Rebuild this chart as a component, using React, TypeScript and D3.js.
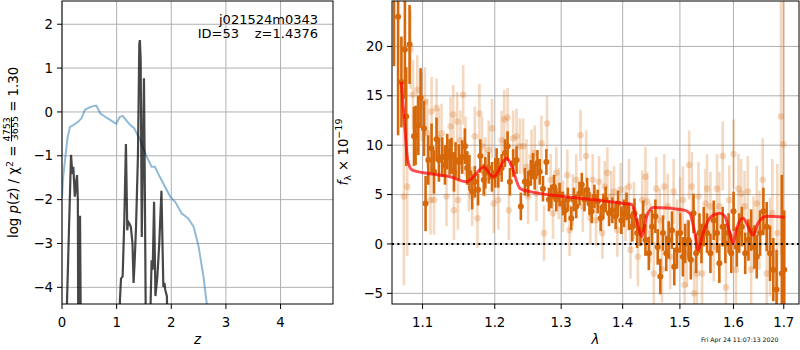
import React, { useEffect } from 'react';
import * as d3 from 'd3';

// ---- left panel: redshift fit ----
const zTicks = [0, 1, 2, 3, 4];
const pTicks = [-4, -3, -2, -1, 0, 1, 2];

// chi2 curve (blue), [z, value]
const chi2Curve = [
  [0.0, -1.95], [0.02, -1.5], [0.055, -1.1], [0.1, -0.6], [0.146, -0.34], [0.21, -0.3],
  [0.3, -0.22], [0.36, -0.14], [0.42, 0.05], [0.51, 0.11], [0.6, 0.14], [0.63, 0.14],
  [0.7, -0.03], [0.79, -0.11], [0.88, -0.18], [0.99, -0.27], [1.06, -0.11], [1.11, -0.09],
  [1.17, -0.18], [1.25, -0.3], [1.32, -0.37], [1.43, -0.64], [1.55, -1.02], [1.64, -1.25],
  [1.7, -1.25], [1.79, -1.48], [1.98, -1.93], [2.07, -2.05], [2.19, -2.31], [2.31, -2.43],
  [2.41, -2.62], [2.5, -3.07], [2.59, -3.76], [2.65, -4.38], [2.72, -5.2]
];

// log p(z) (dark), [z, value]
const pzCurve = [
  [0.055, -6], [0.165, -0.98], [0.19, -1.41], [0.207, -1.25], [0.235, -1.93], [0.26, -1.6],
  [0.275, -1.44], [0.29, -2.0], [0.3, -6], [0.31, -2.39], [0.33, -2.39], [0.35, -6],
  [0.36, -8], [1.04, -8], [1.06, -4.3], [1.08, -3.8], [1.11, -3.75], [1.14, -2.5],
  [1.17, -0.73], [1.195, -2.7], [1.21, -2.5], [1.235, -2.55], [1.26, -2.62], [1.29, -3.0],
  [1.31, -3.9], [1.33, -3.4], [1.355, -2.62], [1.39, -1.0], [1.415, 1.55], [1.425, 1.64],
  [1.44, 1.2], [1.46, -2.85], [1.48, -1.0], [1.5, 0.77], [1.515, -1.5], [1.54, -6],
  [1.56, -7], [1.61, -5], [1.64, -3.38], [1.66, -3.6], [1.685, -2.05], [1.71, -4.2],
  [1.745, -3.76], [1.78, -3.0], [1.82, -1.8], [1.855, -3.99], [1.875, -3.9], [1.89, -4.06],
  [1.92, -4.2], [1.94, -6], [2.0, -8]
];

// ---- right panel: spectrum ----
const lamTicks = [1.1, 1.2, 1.3, 1.4, 1.5, 1.6, 1.7];
const fTicks = [-5, 0, 5, 10, 15, 20];

// [lambda, flux, err]
const darkPoints = [
  [1.0628, 28, 10], [1.068, 23, 12], [1.0723, 16.4, 4.6], [1.0768, 19.7, 5], [1.0785, 12.9, 5],
  [1.0829, 20.2, 4], [1.0887, 10.9, 3], [1.0908, 11.0, 3], [1.0944, 12.0, 3], [1.0974, 14.8, 3],
  [1.1019, 11.7, 2.8], [1.104, 4.1, 2.8], [1.1076, 8.5, 2.5], [1.112, 9.7, 2.5], [1.1152, 7.3, 2.2],
  [1.1187, 10.6, 2.2], [1.1219, 8.5, 2.2], [1.1264, 8.8, 2], [1.1301, 8.0, 2], [1.1332, 9.35, 1.8],
  [1.1364, 8.8, 1.8], [1.1391, 8.95, 1.8], [1.1424, 7.3, 2], [1.1446, 8.5, 1.8], [1.1492, 8.3, 1.8],
  [1.1538, 8.8, 1.7], [1.1575, 9.9, 1.8], [1.1607, 7.7, 1.7], [1.1639, 7.2, 1.8], [1.1677, 5.3, 1.8],
  [1.1715, 6.3, 1.6], [1.1761, 5.5, 1.6], [1.1793, 8.9, 1.7], [1.1842, 6.5, 1.6], [1.1864, 7.2, 1.6],
  [1.1913, 7.7, 1.6], [1.196, 6.8, 1.5], [1.2007, 7.2, 1.5], [1.2027, 8.2, 1.5], [1.2051, 7.2, 1.5],
  [1.21, 7.7, 1.4], [1.2148, 9.2, 1.4], [1.2187, 9.9, 1.5], [1.2221, 6.3, 1.4], [1.2269, 8.2, 1.4],
  [1.2319, 8.5, 1.4], [1.2383, 3.8, 1.4], [1.2443, 6.3, 1.4], [1.2492, 6.1, 1.3], [1.2532, 7.2, 1.3],
  [1.2567, 7.9, 1.3], [1.2592, 6.8, 1.3], [1.2633, 8.2, 1.3], [1.2668, 7.3, 1.3], [1.2718, 5.6, 1.3],
  [1.277, 8.3, 1.3], [1.281, 4.5, 1.2], [1.2847, 4.8, 1.2], [1.2887, 5.8, 1.2], [1.2924, 4.5, 1.2],
  [1.2975, 5.0, 1.2], [1.3027, 4.1, 1.2], [1.3064, 3.4, 1.2], [1.3105, 4.5, 1.2], [1.3159, 2.6, 1.2],
  [1.32, 4.5, 1.2], [1.3238, 3.8, 1.2], [1.329, 5.1, 1.2], [1.3327, 6.0, 1.2], [1.337, 4.5, 1.2],
  [1.3413, 5.5, 1.2], [1.345, 4.1, 1.2], [1.3487, 3.3, 1.2], [1.3531, 4.8, 1.2], [1.3585, 4.3, 1.2],
  [1.3633, 2.6, 1.3], [1.3678, 3.8, 1.3], [1.3716, 4.5, 1.3], [1.3772, 3.1, 1.3], [1.3827, 3.4, 1.3],
  [1.3882, 2.8, 1.3], [1.3922, 4.1, 1.3], [1.3977, 2.4, 1.4], [1.4022, 3.1, 1.4], [1.4066, 3.8, 1.4],
  [1.4106, 2.8, 1.4], [1.4162, 1.75, 1.5], [1.4201, 3.1, 1.5], [1.4247, 1.1, 1.5], [1.4303, 1.4, 1.6],
  [1.435, 2.8, 1.6], [1.4389, 0.4, 1.6], [1.4448, -0.95, 1.7], [1.4505, 1.75, 1.7], [1.4563, 2.8, 1.7],
  [1.4604, -0.3, 1.8], [1.465, -3.3, 1.8], [1.4697, 1.1, 1.8], [1.4755, -0.95, 1.8], [1.4798, 0.4, 1.9],
  [1.4857, 1.4, 1.9], [1.4898, -2.3, 1.9], [1.4946, -0.6, 1.9], [1.5005, 1.1, 2], [1.5054, -1.3, 2],
  [1.5095, 0.05, 2], [1.5157, 0.4, 2], [1.5199, -1.6, 2], [1.5248, 3.1, 2], [1.5296, -0.95, 2],
  [1.5358, 1.1, 2], [1.5395, 0.05, 2], [1.5437, 1.75, 2], [1.5499, 1.1, 2], [1.5562, -0.95, 2],
  [1.5624, 2.4, 2], [1.5686, 1.1, 2], [1.573, -1.95, 2], [1.5793, 1.75, 2], [1.5844, 0.05, 2],
  [1.5906, 1.1, 2], [1.5958, -0.95, 2], [1.6002, 3.3, 2], [1.6065, -0.3, 2], [1.6112, 1.1, 2],
  [1.6162, 1.75, 2], [1.6228, -0.95, 2.1], [1.6292, 0.4, 2.1], [1.6345, 1.4, 2.1], [1.641, -0.3, 2.2],
  [1.6455, -1.3, 2.2], [1.6522, 1.1, 2.3], [1.6588, 3.3, 2.4], [1.6654, 1.75, 2.5], [1.6721, -0.95, 2.8],
  [1.6787, -2.6, 3.2], [1.6853, -4.6, 4], [1.696, -3, 10], [1.701, -2.6, 6]
];

const lightPoints = [
  [1.0755, 4.8, 9], [1.0798, 5.8, 7], [1.0842, 19.7, 4], [1.0873, 15.1, 3.5], [1.093, 15.6, 3.5],
  [1.0987, 13.9, 3.5], [1.1032, 14.4, 3.5], [1.1063, 11.2, 3.5], [1.1106, 4.45, 3.5], [1.112, 13.4, 3.5],
  [1.1152, 4.45, 3.5], [1.1187, 13.75, 3], [1.1219, 10.7, 3], [1.1254, 11.2, 3], [1.1322, 4.8, 3],
  [1.1377, 11.9, 3], [1.1414, 13.1, 3], [1.1424, 3.4, 3], [1.1469, 12.4, 3], [1.1479, 4.45, 3],
  [1.1514, 10.5, 3], [1.1552, 15.1, 3], [1.1584, 9.9, 3], [1.1631, 6.3, 3], [1.1677, 4.8, 3],
  [1.1715, 10.9, 3], [1.1752, 2.6, 3], [1.178, 13.2, 3], [1.1818, 9.9, 3], [1.1864, 7.8, 3],
  [1.1913, 9.5, 3], [1.196, 11.7, 3], [1.1985, 4.1, 3], [1.2051, 4.45, 3], [1.21, 10.5, 3],
  [1.2138, 12.6, 3], [1.2187, 12.8, 3], [1.2206, 3.4, 3], [1.2269, 10.7, 2.8], [1.2319, 10.9, 2.8],
  [1.2368, 9.9, 2.8], [1.2417, 9.9, 2.8], [1.2468, 7.8, 2.8], [1.2492, 4.8, 2.8], [1.2543, 8.8, 2.8],
  [1.2592, 9.2, 2.8], [1.2618, 5.1, 2.8], [1.2694, 10.2, 2.8], [1.2734, 1.1, 2.8], [1.278, 12.2, 2.8],
  [1.2836, 6.5, 2.6], [1.2872, 3.1, 2.6], [1.2924, 7.2, 2.6], [1.296, 5.1, 2.6], [1.3027, 3.8, 2.6],
  [1.3096, 6.95, 2.6], [1.3132, 1.4, 2.6], [1.3184, 4.45, 2.6], [1.3238, 6.5, 2.6], [1.3306, 11.0, 2.6],
  [1.3343, 3.8, 2.6], [1.3397, 8.9, 2.6], [1.3466, 2.6, 2.6], [1.3503, 6.5, 2.6], [1.3558, 2.4, 2.6],
  [1.3607, 6.3, 2.6], [1.3662, 1.1, 2.6], [1.37, 5.8, 2.6], [1.3744, 7.2, 2.6], [1.381, 4.8, 2.6],
  [1.3855, 5.3, 2.6], [1.391, 1.4, 2.7], [1.3965, 5.5, 2.7], [1.4049, 3.1, 2.8], [1.4106, 5.8, 2.8],
  [1.4133, -0.6, 2.9], [1.4191, 3.4, 2.9], [1.4259, -1.3, 3], [1.4333, 4.45, 3], [1.4389, 6.8, 3],
  [1.4418, 4.3, 3], [1.4476, 1.1, 3], [1.4535, -3.0, 3.2], [1.458, 5.6, 3.2], [1.4639, 2.4, 3.2],
  [1.468, -2.6, 3.3], [1.4721, 5.8, 3.3], [1.4781, 3.8, 3.3], [1.4826, -1.3, 3.3], [1.4887, 5.3, 3.3],
  [1.4946, 1.1, 3.4], [1.5005, 3.4, 3.4], [1.5054, 4.45, 3.4], [1.5085, -4.15, 3.4], [1.5126, -0.95, 3.4],
  [1.5168, 8.0, 3.5], [1.5218, 5.8, 3.5], [1.526, -5.0, 3.5], [1.5309, -3.0, 3.5], [1.534, 4.8, 3.5],
  [1.5406, -3.0, 3.5], [1.5469, 4.1, 3.5], [1.5499, 5.6, 3.5], [1.5562, 3.8, 3.5], [1.5624, -0.3, 3.5],
  [1.5686, 5.6, 3.5], [1.573, 3.8, 3.5], [1.5793, 8.9, 3.5], [1.5856, -4.4, 3.5], [1.5919, 4.45, 3.5],
  [1.6002, 9.1, 3.5], [1.6047, -2.6, 3.5], [1.6098, 5.6, 3.5], [1.615, 5.1, 3.5], [1.6215, 3.8, 3.6],
  [1.6279, 5.3, 3.6], [1.6345, -2.6, 3.6], [1.639, 1.1, 3.7], [1.6455, 4.1, 3.8], [1.6508, 1.4, 4],
  [1.6574, 6.5, 4.2], [1.6654, -3.0, 4.5], [1.6721, -0.3, 5], [1.6767, 3.1, 5.5], [1.6868, 1.1, 7],
  [1.6943, 12.9, 14], [1.699, 10.1, 16]
];

// best-fit model, [lambda, flux]
const modelLine = [
  [1.0722, 16.4], [1.0773, 11.2], [1.0804, 8.5], [1.086, 7.5], [1.1102, 7.1], [1.1373, 6.8],
  [1.1603, 6.3], [1.1697, 6.8], [1.1838, 7.8], [1.1981, 6.8], [1.2176, 8.7], [1.2249, 7.8],
  [1.2373, 5.6], [1.2522, 5.3], [1.3034, 4.8], [1.3569, 4.45], [1.4011, 4.1], [1.4153, 4.0],
  [1.4238, 2.4], [1.4324, 0.75], [1.4411, 2.8], [1.4526, 3.7], [1.5059, 3.45], [1.5181, 3.1],
  [1.5272, 1.1], [1.5333, -0.6], [1.5425, 1.1], [1.5582, 2.8], [1.5738, 3.1], [1.5834, 2.8],
  [1.5929, 1.1], [1.5992, 0.05], [1.6057, 1.5], [1.6186, 2.6], [1.6284, 1.8], [1.6382, 0.9],
  [1.6481, 2.1], [1.6649, 2.8], [1.7021, 2.7]
];

const FONT = 'DejaVu Sans, sans-serif';
const GRID = '#b0b0b0';
const ORANGE = '#d6680a';
const fmt = (v) => String(v).replace('-', '\u2212');

export default function App() {
  useEffect(() => {
    document.body.style.margin = '0';
  }, []);

  const L = { x0: 62, x1: 333, y0: 1, y1: 304 };
  const R = { x0: 392, x1: 799, y0: 1, y1: 304 };

  const zScale = d3.scaleLinear().domain([0, 4.96]).range([L.x0, L.x1]);
  const pScale = d3.scaleLinear().domain([-4.38, 2.53]).range([L.y1, L.y0]);
  const lamScale = d3.scaleLog().domain([1.0602, 1.7315]).range([R.x0, R.x1]);
  const fScale = d3.scaleLinear().domain([-6.08, 24.6]).range([R.y1, R.y0]);

  const leftLine = d3.line().x((d) => zScale(d[0])).y((d) => pScale(d[1]));
  const modelPath = d3.line().x((d) => lamScale(d[0])).y((d) => fScale(d[1])).curve(d3.curveMonotoneX);

  return (
    <svg width={800} height={350} style={{ position: 'absolute', left: 0, top: 0, background: '#fff' }}
      fontFamily={FONT}>
      <defs>
        <clipPath id="clipL"><rect x={L.x0} y={L.y0} width={L.x1 - L.x0} height={L.y1 - L.y0} /></clipPath>
        <clipPath id="clipR"><rect x={R.x0} y={R.y0} width={R.x1 - R.x0} height={R.y1 - R.y0} /></clipPath>
      </defs>

      {/* left panel grid */}
      {zTicks.map((t) => (
        <line key={'zg' + t} x1={zScale(t)} x2={zScale(t)} y1={L.y0} y2={L.y1} stroke={GRID} strokeWidth={1} />
      ))}
      {pTicks.map((t) => (
        <line key={'pg' + t} x1={L.x0} x2={L.x1} y1={pScale(t)} y2={pScale(t)} stroke={GRID} strokeWidth={1} />
      ))}

      <g clipPath="url(#clipL)">
        <path d={leftLine(chi2Curve)} fill="none" stroke="#1f77b4" strokeOpacity={0.5} strokeWidth={2} />
        <path d={leftLine(pzCurve)} fill="none" stroke="#000" strokeOpacity={0.72} strokeWidth={2.2} />
      </g>

      <text x={318} y={24} textAnchor="end" fontSize={13}>j021524m0343</text>
      <text x={239} y={38} textAnchor="end" fontSize={13}>ID=53</text>
      <text x={318} y={38} textAnchor="end" fontSize={13}>z=1.4376</text>

      {/* left ticks */}
      {zTicks.map((t) => (
        <g key={'zt' + t}>
          <line x1={zScale(t)} x2={zScale(t)} y1={L.y1} y2={L.y1 + 5} stroke="#000" />
          <text x={zScale(t)} y={327} textAnchor="middle" fontSize={13.3}>{fmt(t)}</text>
        </g>
      ))}
      {pTicks.map((t) => (
        <g key={'pt' + t}>
          <line x1={L.x0 - 5} x2={L.x0} y1={pScale(t)} y2={pScale(t)} stroke="#000" />
          <text x={L.x0 - 9} y={pScale(t)} dy="0.35em" textAnchor="end" fontSize={13.3}>{fmt(t)}</text>
        </g>
      ))}
      <rect x={L.x0} y={L.y0} width={L.x1 - L.x0} height={L.y1 - L.y0} fill="none" stroke="#000" strokeWidth={1} />
      <text x={(L.x0 + L.x1) / 2} y={344} textAnchor="middle" fontSize={13.3} fontStyle="italic">z</text>
      <g transform="translate(18,153) rotate(-90)">
        <text x={-85} y={0} fontSize={13.3}>
          log <tspan fontStyle="italic">p</tspan>(<tspan fontStyle="italic">z</tspan>) / {'\u03c7'}
          <tspan dy={-5} fontSize={9.5}>2</tspan>
          <tspan dy={5}>{' = '}</tspan>
          <tspan dy={-8} fontSize={9.5} textDecoration="underline">4753</tspan>
          <tspan dx={-23} dy={8} fontSize={9.5}>3655</tspan>
          <tspan>{' = 1.30'}</tspan>
        </text>
      </g>

      {/* right panel grid */}
      {lamTicks.map((t) => (
        <line key={'lg' + t} x1={lamScale(t)} x2={lamScale(t)} y1={R.y0} y2={R.y1} stroke={GRID} strokeWidth={1} />
      ))}
      {fTicks.map((t) => (
        <line key={'fg' + t} x1={R.x0} x2={R.x1} y1={fScale(t)} y2={fScale(t)} stroke={GRID} strokeWidth={1} />
      ))}

      <g clipPath="url(#clipR)">
        <g opacity={0.25}>
          {lightPoints.map((d, i) => (
            <line key={'le' + i} x1={lamScale(d[0])} x2={lamScale(d[0])} y1={fScale(d[1] - d[2])}
              y2={fScale(d[1] + d[2])} stroke={ORANGE} strokeWidth={2.6} />
          ))}
        </g>
        {lightPoints.map((d, i) => (
          <circle key={'lc' + i} cx={lamScale(d[0])} cy={fScale(d[1])} r={3.3} fill={ORANGE} fillOpacity={0.25} />
        ))}
        {darkPoints.map((d, i) => (
          <line key={'de' + i} x1={lamScale(d[0])} x2={lamScale(d[0])} y1={fScale(d[1] - d[2])}
            y2={fScale(d[1] + d[2])} stroke={ORANGE} strokeWidth={2.6} />
        ))}
        {darkPoints.map((d, i) => (
          <circle key={'dc' + i} cx={lamScale(d[0])} cy={fScale(d[1])} r={3} fill={ORANGE} />
        ))}
        <line x1={R.x0} x2={R.x1} y1={fScale(0)} y2={fScale(0)} stroke="#000" strokeWidth={2}
          strokeDasharray="2,3.4" />
        <path d={modelPath(modelLine)} fill="none" stroke="red" strokeOpacity={0.7} strokeWidth={3} />
      </g>

      {/* right ticks */}
      {lamTicks.map((t) => (
        <g key={'lt' + t}>
          <line x1={lamScale(t)} x2={lamScale(t)} y1={R.y1} y2={R.y1 + 5} stroke="#000" />
          <text x={lamScale(t)} y={327} textAnchor="middle" fontSize={13.3}>{fmt(t)}</text>
        </g>
      ))}
      {fTicks.map((t) => (
        <g key={'ft' + t}>
          <line x1={R.x0 - 5} x2={R.x0} y1={fScale(t)} y2={fScale(t)} stroke="#000" />
          <text x={R.x0 - 9} y={fScale(t)} dy="0.35em" textAnchor="end" fontSize={13.3}>{fmt(t)}</text>
        </g>
      ))}
      <rect x={R.x0} y={R.y0} width={R.x1 - R.x0} height={R.y1 - R.y0} fill="none" stroke="#000" strokeWidth={1} />
      <text x={(R.x0 + R.x1) / 2} y={344} textAnchor="middle" fontSize={13.3} fontStyle="italic">{'\u03bb'}</text>
      <g transform="translate(348,152) rotate(-90)">
        <text x={0} y={0} textAnchor="middle" fontSize={13.3}>
          <tspan fontStyle="italic">f</tspan>
          <tspan dy={3} fontSize={9.5}>{'\u03bb'}</tspan>
          <tspan dy={-3}>{' \u00d7 10'}</tspan>
          <tspan dy={-6} fontSize={9.5}>{'\u221219'}</tspan>
        </text>
      </g>

      <text x={701} y={342} fontSize={6.2}>Fri Apr 24 11:07:13 2020</text>
    </svg>
  );
}
